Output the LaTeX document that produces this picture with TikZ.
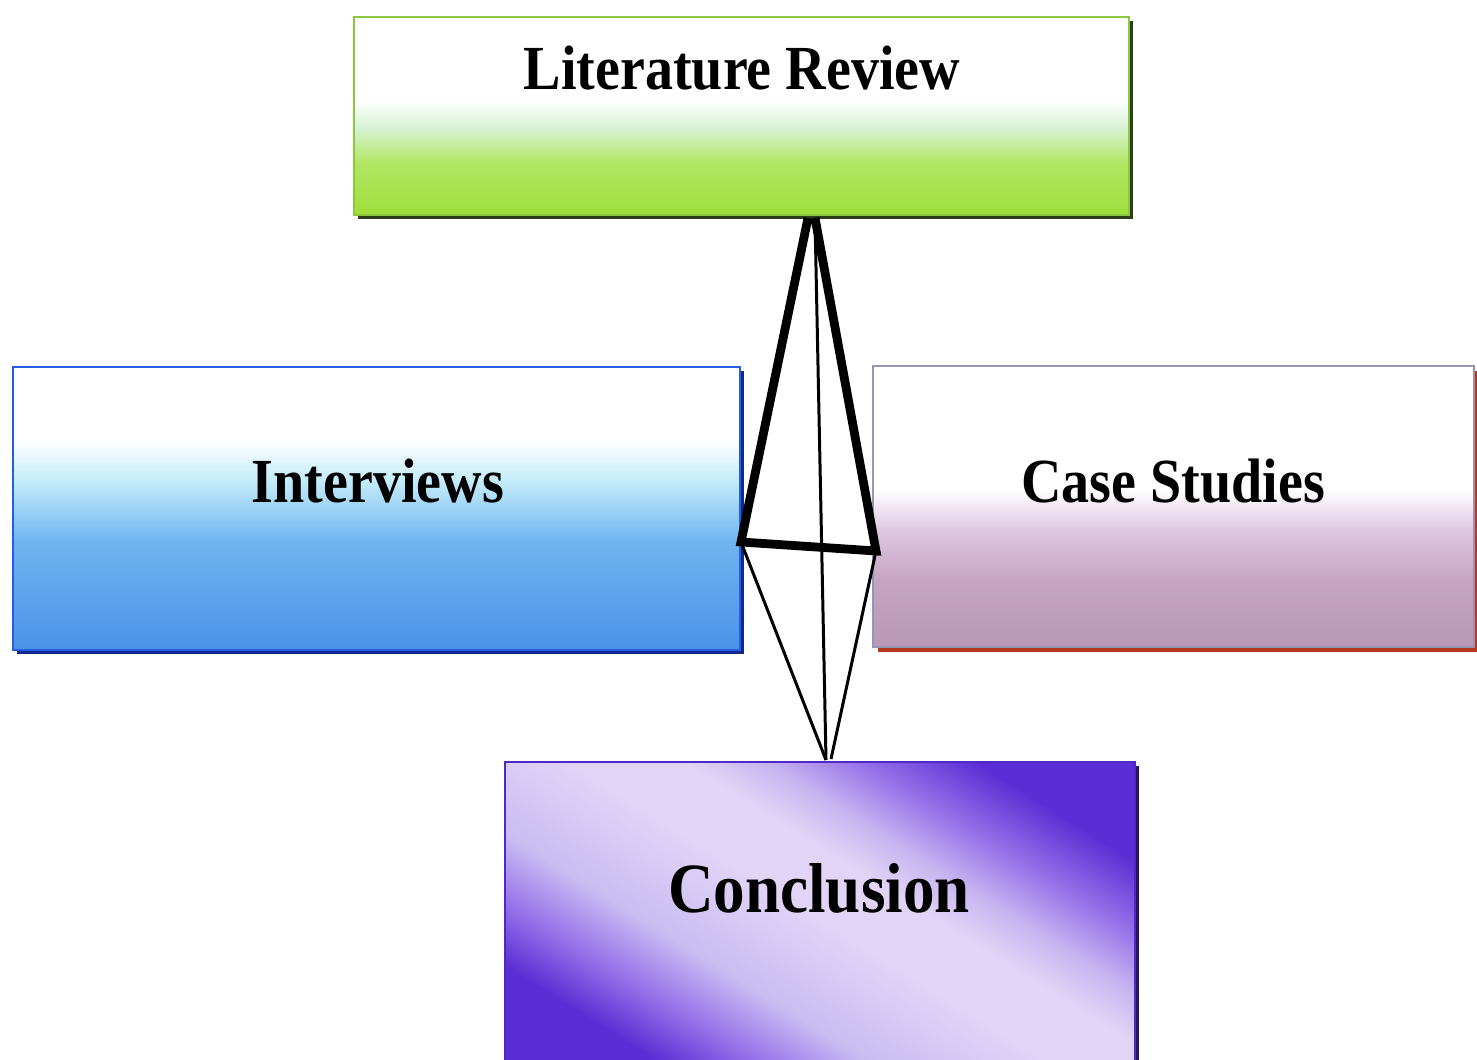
\documentclass[tikz,border=0pt]{standalone}
\usepackage{fontspec}
\usepackage{graphicx}
\setmainfont{Liberation Serif}
\usetikzlibrary{shadows}

% colours
\definecolor{litG}{RGB}{160,222,62}
\definecolor{litG2}{RGB}{176,230,98}
\definecolor{litL}{RGB}{214,242,212}
\definecolor{litEdge}{RGB}{140,200,60}
\definecolor{litShadow}{RGB}{45,60,25}
\definecolor{ivB}{RGB}{74,146,232}
\definecolor{ivM}{RGB}{110,180,240}
\definecolor{ivL}{RGB}{196,236,250}
\definecolor{ivEdge}{RGB}{35,95,225}
\definecolor{ivShadow}{RGB}{20,40,140}
\definecolor{csB}{RGB}{184,152,180}
\definecolor{csM}{RGB}{198,164,194}
\definecolor{csL}{RGB}{224,200,228}
\definecolor{csEdge}{RGB}{150,150,180}
\definecolor{csShadow}{RGB}{180,55,30}
\definecolor{cnD}{RGB}{92,44,212}
\definecolor{cnM}{RGB}{148,110,232}
\definecolor{cnL}{RGB}{226,212,246}
\definecolor{cnL1}{RGB}{200,188,242}
\definecolor{cnL2}{RGB}{198,180,240}
\definecolor{cnEdge}{RGB}{80,40,200}
\definecolor{cnShadow}{RGB}{40,20,100}

% box fills (vertical: 25bp = bottom edge, 75bp = top edge)
\pgfdeclareverticalshading{litshade}{100bp}{color(0bp)=(litG); color(25bp)=(litG);
  color(38bp)=(litG2); color(47bp)=(litL); color(54bp)=(white); color(100bp)=(white)}
\pgfdeclareverticalshading{ivshade}{100bp}{color(0bp)=(ivB); color(25bp)=(ivB);
  color(44bp)=(ivM); color(55bp)=(ivL); color(62bp)=(white); color(100bp)=(white)}
\pgfdeclareverticalshading{csshade}{100bp}{color(0bp)=(csB); color(25bp)=(csB);
  color(37bp)=(csM); color(46bp)=(csL); color(53bp)=(white); color(100bp)=(white)}
% diagonal bands: dark corners top right and bottom left, light middle
\pgfdeclarehorizontalshading{cnshade}{100bp}{color(0bp)=(cnD); color(26bp)=(cnD);
  color(32bp)=(cnM); color(39bp)=(cnL1); color(50bp)=(cnL); color(57bp)=(cnL);
  color(62bp)=(cnL2); color(68bp)=(cnM); color(75bp)=(cnD); color(100bp)=(cnD)}

\tikzset{
  box/.style={rectangle, inner sep=0pt, line width=0.85pt},
  boxlabel/.style={anchor=base, inner sep=0pt, font=\bfseries\fontsize{31.9}{36}\selectfont},
  thickline/.style={line width=5pt, line join=miter, black},
  thinline/.style={line width=1.7pt, black},
}

\newcommand{\tallword}[1]{\scalebox{1}[1.12]{#1}}

\begin{document}
\begin{tikzpicture}[x=0.02cm, y=-0.02cm]
  \useasboundingbox[fill=white] (0,0) rectangle (1477,1060);

  % boxes
  \node[box, draw=litEdge, shading=litshade, minimum width=15.5cm, minimum height=3.96cm,
        drop shadow={shadow xshift=0.08cm, shadow yshift=-0.08cm, fill=litShadow, opacity=1}]
        (lit) at (741.5,116) {};
  \node[box, draw=ivEdge, shading=ivshade, minimum width=14.54cm, minimum height=5.66cm,
        drop shadow={shadow xshift=0.08cm, shadow yshift=-0.08cm, fill=ivShadow, opacity=1}]
        (intv) at (376.5,508.5) {};
  \node[box, draw=csEdge, shading=csshade, minimum width=12.02cm, minimum height=5.62cm,
        drop shadow={shadow xshift=0.1cm, shadow yshift=-0.1cm, fill=csShadow, opacity=1}]
        (case) at (1173.5,506.5) {};
  \node[box, draw=cnEdge, shading=cnshade, shading angle=58, minimum width=12.6cm, minimum height=6.26cm,
        drop shadow={shadow xshift=0.08cm, shadow yshift=-0.08cm, fill=cnShadow, opacity=1}]
        (concl) at (820,918.5) {};

  % labels
  \node[boxlabel] (litT) at (742,90) {\tallword{Literature Review}};
  \node[boxlabel] (intvT) at (378,502) {\tallword{Interviews}};
  \node[boxlabel] (caseT) at (1173,502) {\tallword{Case Studies}};
  \node[boxlabel, font=\bfseries\fontsize{35.9}{40}\selectfont] (conclT) at (819,912) {\tallword{Conclusion}};

  % connector end points on the box edges
  \coordinate (lrL) at (808,218);
  \coordinate (lrR) at (815,218);
  \coordinate (ivR) at (741,542);
  \coordinate (csL) at (876,551);
  \coordinate (cnA) at (826,760);
  \coordinate (cnB) at (831,759);

  % connectors
  \draw[thickline] (lrL) -- (ivR) -- (csL) -- (lrR);
  \draw[thinline] (ivR) -- (cnA);
  \draw[thinline] (lrR) -- (cnA);
  \draw[thinline] (csL) -- (cnB);
\end{tikzpicture}
\end{document}
